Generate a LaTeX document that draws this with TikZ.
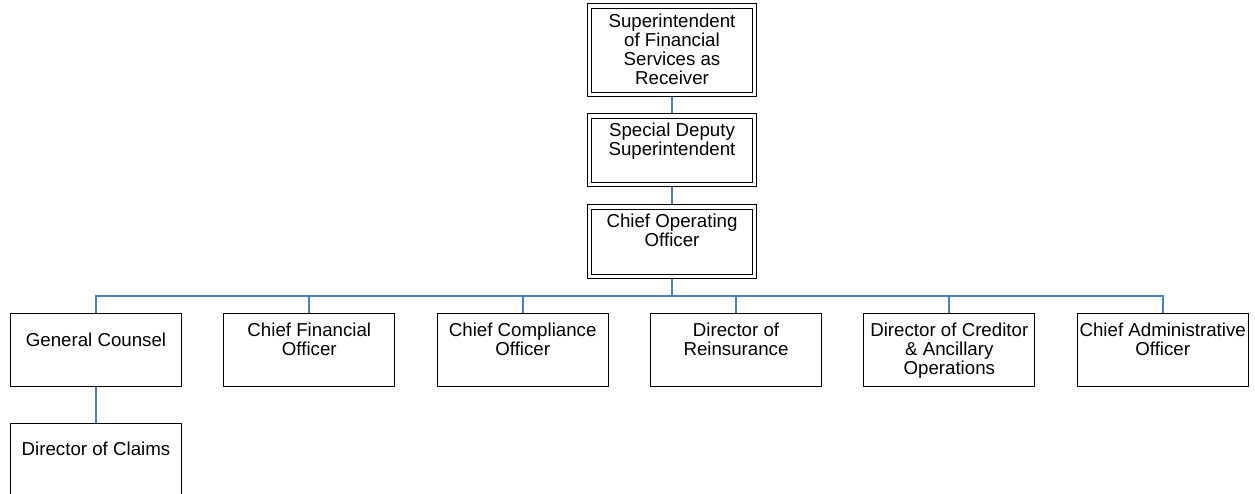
\documentclass[tikz,border=0pt]{standalone}
\usepackage{fontspec}
\setmainfont{Liberation Sans}
\usetikzlibrary{backgrounds}
\definecolor{connblue}{RGB}{74,126,193}
\begin{document}
\begin{tikzpicture}[x=1pt,y=-1pt,
  boxs/.style={draw=black, line width=1pt, fill=white, minimum width=171pt, minimum height=72.7pt, inner sep=0pt, anchor=center},
  dbox/.style={draw=black, line width=1pt, double=white, double distance=3.1pt, minimum width=165pt, inner sep=0pt, anchor=center},
  lbl/.style={font=\fontsize{18.7}{19}\selectfont, align=center, inner sep=0pt, anchor=north},
  conn/.style={draw=connblue, line width=1.8pt}]
\useasboundingbox (0,0) rectangle (1255,494);
\begin{scope}
\clip (0,0) rectangle (1255,494);
% top chain
\node[dbox, minimum height=88.6pt] (sup) at (672,50.35) {};
\node[dbox, minimum height=68.6pt] (sdep) at (672,150.35) {};
\node[dbox, minimum height=69.2pt] (coo) at (672,241.65) {};
% bottom row
\node[boxs] (gc)  at (96,350.3) {};
\node[boxs] (cfo) at (309.3,350.3) {};
\node[boxs] (cco) at (522.7,350.3) {};
\node[boxs] (dre) at (736,350.3) {};
\node[boxs] (dca) at (949.3,350.3) {};
\node[boxs] (cao) at (1162.7,350.3) {};
\node[boxs] (dcl) at (96,459.7) {};
% labels
\node[lbl] (tsup) at (672,13.4) {Superintendent\\of Financial\\Services as\\Receiver};
\node[lbl] (tsdep) at (672,123.1) {Special Deputy\\Superintendent};
\node[lbl] (tcoo) at (672,213.7) {Chief Operating\\Officer};
\node[lbl] (tgc) at (96,333.1) {General Counsel};
\node[lbl] (tcfo) at (309.3,322.4) {Chief Financial\\Officer};
\node[lbl] (tcco) at (522.7,322.4) {Chief Compliance\\Officer};
\node[lbl] (tdre) at (736,322.4) {Director of\\Reinsurance};
\node[lbl] (tdca) at (949.3,322.4) {Director of Creditor\\\& Ancillary\\Operations};
\node[lbl] (tcao) at (1162.7,322.4) {Chief Administrative\\Officer};
\node[lbl] (tdcl) at (96,441.4) {Director of Claims};
\coordinate (bus) at (672,295.7);
% connectors
\begin{scope}[on background layer]
\draw[conn] (sup.south) -- (sdep.north);
\draw[conn] (sdep.south) -- (coo.north);
\draw[conn] (coo.south) -- (bus);
\draw[conn] (bus) -| (gc.north);
\draw[conn] (bus) -| (cfo.north);
\draw[conn] (bus) -| (cco.north);
\draw[conn] (bus) -| (dre.north);
\draw[conn] (bus) -| (dca.north);
\draw[conn] (bus) -| (cao.north);
\draw[conn] (gc.south) -- (dcl.north);
\end{scope}
\end{scope}
\end{tikzpicture}
\end{document}
